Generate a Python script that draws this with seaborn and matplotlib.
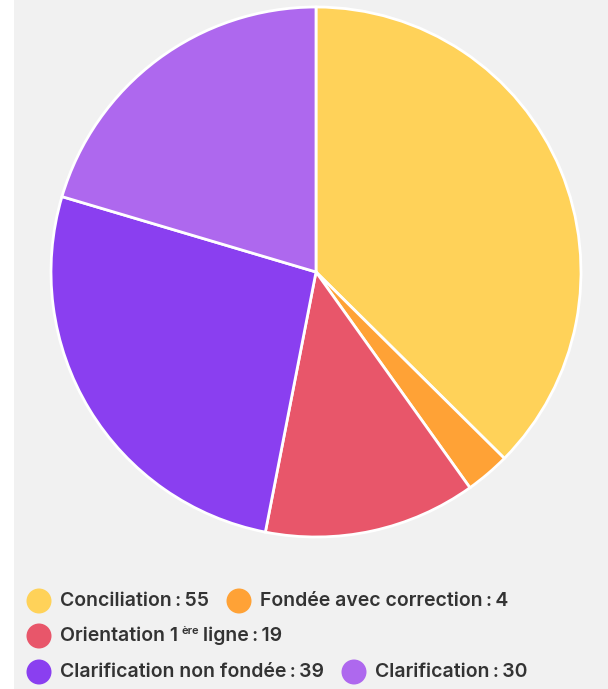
import matplotlib
matplotlib.use("Agg")
import matplotlib.pyplot as plt
from matplotlib.patches import Rectangle, Circle
import seaborn as sns

# Data
labels = ["Conciliation", "Fondée avec correction", "Orientation 1", "Clarification non fondée", "Clarification"]
values = [55, 4, 19, 39, 30]
colors = ["#FFD259", "#FFA236", "#E8566A", "#8A3FF0", "#AE68EE"]
# legend rows: indices of items in each row
legend_rows = [[0, 1], [2], [3, 4]]

sns.set_theme(style="white")
plt.rcParams["font.family"] = ["Inter", "DejaVu Sans"]

W, H = 608, 689
fig = plt.figure(figsize=(W / 100, H / 100), dpi=100)
fig.patch.set_facecolor("white")
fig.patches.append(Rectangle((14 / W, 0), 1 - 14 / W, 1, transform=fig.transFigure,
                             facecolor="#F1F1F1", edgecolor="none", zorder=-5))

# pie
ax = fig.add_axes([51 / W, 1 - 537 / H, 530 / W, 530 / H])
ax.set_zorder(2)
ax.pie(values, colors=colors, startangle=90, counterclock=False,
       wedgeprops=dict(edgecolor="white", linewidth=2))
ax.set_xlim(-1.0, 1.0)
ax.set_ylim(-1.0, 1.0)
ax.set_aspect("equal")
ax.axis("off")

# legend, drawn as a flow layout
txt_color = "#333333"
fs = 14
renderer = fig.canvas.get_renderer()
row_y = [601, 636, 672]
sep = "\u2009:\u2009"


def put(x, y, s, size=fs, dy=0):
    t = fig.text(x / W, 1 - (y + dy) / H, s, fontsize=size, fontweight="semibold",
                 color=txt_color, va="center", ha="left", zorder=3)
    bb = t.get_window_extent(renderer)
    return x + bb.width


for row, y in zip(legend_rows, row_y):
    x = 39
    for i in row:
        fig.patches.append(Circle((x / 100, (H - y) / 100), 0.125, transform=fig.dpi_scale_trans,
                                  facecolor=colors[i], edgecolor="none", zorder=3))
        x += 21
        if labels[i] == "Orientation 1":
            x = put(x, y, labels[i])
            x += 3
            x = put(x, y, "ère", size=8, dy=-5)
            x += 4
            x = put(x, y, "ligne" + sep + str(values[i]))
        else:
            x = put(x, y, labels[i] + sep + str(values[i]))
        x += 30

fig.savefig("out.png", dpi=100, facecolor=fig.get_facecolor())
